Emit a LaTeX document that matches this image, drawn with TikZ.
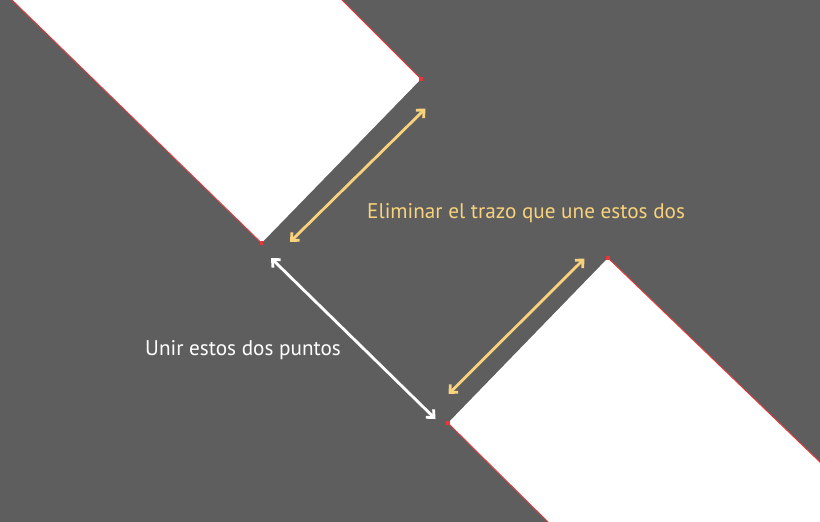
\documentclass[tikz,border=0pt]{standalone}
\usepackage{fontspec}
\setmainfont{PT Sans}
\usetikzlibrary{arrows.meta}
\definecolor{bg}{HTML}{5E5E5E}
\definecolor{edge}{HTML}{E8363A}
\definecolor{ylw}{HTML}{F8D27C}
\tikzset{
  rededge/.style={draw=edge, line width=0.9pt},
  vdot/.style={fill=edge, minimum size=3.5pt, inner sep=0pt, draw=none, rectangle},
  dblarrow/.style={line width=2.8pt, line cap=round, {Straight Barb[length=6pt,width=11pt,line width=2.8pt]}-{Straight Barb[length=6pt,width=11pt,line width=2.8pt]}},
  lbl/.style={font=\fontsize{21.2}{25}\selectfont, inner sep=0pt, anchor=base west}
}
\begin{document}
\begin{tikzpicture}[x=1pt,y=-1pt]
\fill[bg] (0,0) rectangle (820,522);
\useasboundingbox (0,0) rectangle (820,522);
% upper-left white shape
\fill[white] (10,-2) -- (261.5,243) -- (421,79) -- (340,-2) -- cycle;
\draw[rededge] (10,-2) -- (261.5,243);
\draw[rededge] (421,79) -- (340,-2);
% lower-right white shape
\fill[white] (448,423) -- (608,258) -- (824,466) -- (824,524) -- (550,524) -- cycle;
\draw[rededge] (448,423) -- (550,524);
\draw[rededge] (608,258) -- (824,466);
% vertex dots
\node[vdot] (v1) at (261.5,243) {};
\node[vdot] (v2) at (421,79) {};
\node[vdot] (v3) at (608,258) {};
\node[vdot] (v4) at (448,423) {};
% arrow ends
\coordinate (a1) at (290,242);
\coordinate (a2) at (425.5,108.5);
\coordinate (b1) at (584.5,258.5);
\coordinate (b2) at (448.5,394);
\coordinate (c1) at (271,258);
\coordinate (c2) at (435.5,419);
\draw[dblarrow, ylw] (a1) -- (a2);
\draw[dblarrow, ylw] (b1) -- (b2);
\draw[dblarrow, white] (c1) -- (c2);
% labels
\node[lbl, text=ylw] (t1) at (367,218) {Eliminar el trazo que une estos dos};
\node[lbl, text=white] (t2) at (145,355) {Unir estos dos puntos};
\end{tikzpicture}
\end{document}
